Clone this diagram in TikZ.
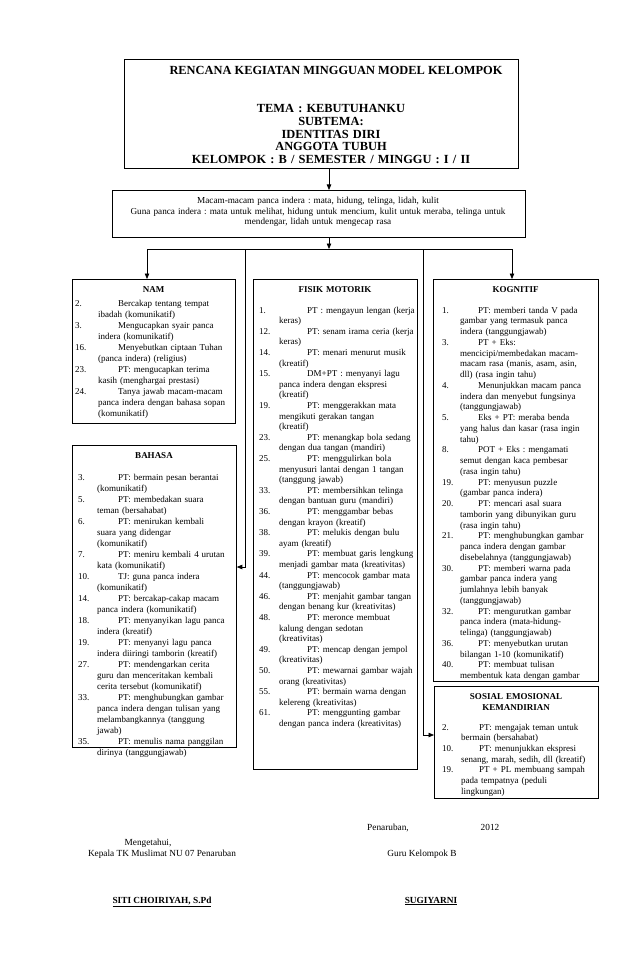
\documentclass[tikz,border=0pt]{standalone}
\usepackage{fontspec}
\setmainfont{Liberation Serif}
\usetikzlibrary{arrows.meta}
\frenchspacing
\newlength{\lebarno}
\newlength{\gantung}
\newcommand{\butir}[2]{\hangindent=\gantung\hangafter=1\noindent\makebox[\lebarno][l]{#1}#2\par}

\begin{document}
\begin{tikzpicture}[x=1pt, y=-1pt,
  kotak/.style={draw, line width=0.8pt, anchor=north west, inner sep=0pt},
  judul/.style={font=\fontsize{9}{11}\selectfont\bfseries, text width=150pt, align=center, anchor=base, inner sep=0pt},
  isi/.style={anchor=base west, inner sep=0pt, text width=220pt, align=left},
  panah/.style={line width=0.7pt, -{Triangle[length=5.5pt, width=4.5pt]}},
  garis/.style={line width=0.7pt},
  ttd/.style={font=\fontsize{9.3}{11}\selectfont, anchor=base, inner sep=0pt}
]
\useasboundingbox (0,0) rectangle (638,976);

% kepala
\node[kotak, minimum width=394pt, minimum height=109pt] (kepala) at (124,59) {};
\node[anchor=base, inner sep=0pt, font=\fontsize{12.4}{14}\selectfont\bfseries] (judulutama) at (336,75) {RENCANA KEGIATAN MINGGUAN MODEL KELOMPOK};
\node[anchor=base, inner sep=0pt, text width=330pt, align=center, font=\fontsize{12.4}{12.6}\selectfont\bfseries] (tema) at (331,113)
  {TEMA : KEBUTUHANKU\\ SUBTEMA:\\ IDENTITAS DIRI\\ ANGGOTA TUBUH\\ KELOMPOK : B / SEMESTER / MINGGU : I / II};

% panca indera
\node[kotak, minimum width=413pt, minimum height=47pt] (panca) at (112,190) {};
\node[anchor=base, inner sep=0pt, text width=430pt, align=center, font=\fontsize{9.2}{10.5}\selectfont] (pancaisi) at (318,204)
  {Macam-macam panca indera : mata, hidung, telinga, lidah, kulit\\
   Guna panca indera : mata untuk melihat, hidung untuk mencium, kulit untuk meraba, telinga untuk\hspace*{36pt}\\
   mendengar, lidah untuk mengecap rasa};

% kotak bidang
\node[kotak, minimum width=163pt, minimum height=144pt] (nam) at (72,279) {};
\node[kotak, minimum width=164pt, minimum height=302pt] (bhs) at (72,445) {};
\node[kotak, minimum width=164pt, minimum height=490pt] (fis) at (253,279) {};
\node[kotak, minimum width=165pt, minimum height=402pt] (kog) at (433,279) {};
\node[kotak, fill=white, minimum width=164pt, minimum height=112pt] (sos) at (434,686) {};

% percabangan
\coordinate (poros) at (329,0);
\coordinate (simpang) at (329,249);
\coordinate (cabA) at (147,249);
\coordinate (cabB) at (245,249);
\coordinate (cabC) at (423,249);
\coordinate (cabD) at (512,249);
\draw[panah] (kepala.south -| poros) -- (panca.north -| poros);
\draw[panah] (panca.south -| poros) -- (simpang);
\draw[garis] (cabA) -- (cabD);
\draw[panah] (cabA) -- (cabA |- nam.north);
\draw[panah] (cabD) -- (cabD |- kog.north);
\draw[panah] (cabB) |- ([yshift=-122pt]bhs.north east);
\draw[panah] (cabC) |- ([yshift=-49pt]sos.north west);

% NAM
\node[judul] (namjudul) at (153.5,292) {NAM};
\node[isi, font=\fontsize{9}{11}\selectfont] (namisi) at (75,306) {\setlength{\lebarno}{43pt}\setlength{\gantung}{23pt}%
\butir{2.}{Bercakap tentang tempat\newline ibadah (komunikatif)}
\butir{3.}{Mengucapkan syair panca\newline indera (komunikatif)}
\butir{16.}{Menyebutkan ciptaan Tuhan\newline (panca indera) (religius)}
\butir{23.}{PT: mengucapkan terima\newline kasih (menghargai prestasi)}
\butir{24.}{Tanya jawab macam-macam\newline panca indera dengan bahasa sopan\newline (komunikatif)}
};

% BAHASA
\node[judul] (bhsjudul) at (154,458) {BAHASA};
\node[isi, font=\fontsize{9}{11}\selectfont] (bhsisi) at (78,480) {\setlength{\lebarno}{40pt}\setlength{\gantung}{19pt}%
\butir{3.}{PT: bermain pesan berantai\newline (komunikatif)}
\butir{5.}{PT: membedakan suara\newline teman (bersahabat)}
\butir{6.}{PT: menirukan kembali\newline suara yang didengar\newline (komunikatif)}
\butir{7.}{PT: meniru kembali 4 urutan\newline kata (komunikatif)}
\butir{10.}{TJ: guna panca indera\newline (komunikatif)}
\butir{14.}{PT: bercakap-cakap macam\newline panca indera (komunikatif)}
\butir{18.}{PT: menyanyikan lagu panca\newline indera (kreatif)}
\butir{19.}{PT: menyanyi lagu panca\newline indera diiringi tamborin (kreatif)}
\butir{27.}{PT: mendengarkan cerita\newline guru dan menceritakan kembali\newline cerita tersebut (komunikatif)}
\butir{33.}{PT: menghubungkan gambar\newline panca indera dengan tulisan yang\newline melambangkannya (tanggung\newline jawab)}
\butir{35.}{PT: menulis nama panggilan\newline dirinya (tanggungjawab)}
};

% FISIK MOTORIK
\node[judul] (fisjudul) at (335,292) {FISIK MOTORIK};
\node[isi, font=\fontsize{9}{10.6}\selectfont] (fisisi) at (259,313) {\setlength{\lebarno}{48pt}\setlength{\gantung}{20pt}%
\butir{1.}{PT : mengayun lengan (kerja\newline keras)}
\butir{12.}{PT: senam irama ceria (kerja\newline keras)}
\butir{14.}{PT: menari menurut musik\newline (kreatif)}
\butir{15.}{DM+PT : menyanyi lagu\newline panca indera dengan ekspresi\newline (kreatif)}
\butir{19.}{PT: menggerakkan mata\newline mengikuti gerakan tangan\newline (kreatif)}
\butir{23.}{PT: menangkap bola sedang\newline dengan dua tangan (mandiri)}
\butir{25.}{PT: menggulirkan bola\newline menyusuri lantai dengan 1 tangan\newline (tanggung jawab)}
\butir{33.}{PT: membersihkan telinga\newline dengan bantuan guru (mandiri)}
\butir{36.}{PT: menggambar bebas\newline dengan krayon (kreatif)}
\butir{38.}{PT: melukis dengan bulu\newline ayam (kreatif)}
\butir{39.}{PT: membuat garis lengkung\newline menjadi gambar mata (kreativitas)}
\butir{44.}{PT: mencocok gambar mata\newline (tanggungjawab)}
\butir{46.}{PT: menjahit gambar tangan\newline dengan benang kur (kreativitas)}
\butir{48.}{PT: meronce membuat\newline kalung dengan sedotan\newline (kreativitas)}
\butir{49.}{PT: mencap dengan jempol\newline (kreativitas)}
\butir{50.}{PT: mewarnai gambar wajah\newline orang (kreativitas)}
\butir{55.}{PT: bermain warna dengan\newline kelereng (kreativitas)}
\butir{61.}{PT: menggunting gambar\newline dengan panca indera (kreativitas)}
};

% KOGNITIF
\node[judul] (kogjudul) at (515.5,292) {KOGNITIF};
\node[isi, font=\fontsize{9}{10.75}\selectfont] (kogisi) at (442,313) {\setlength{\lebarno}{36pt}\setlength{\gantung}{18pt}%
\butir{1.}{PT: memberi tanda V pada\newline gambar yang termasuk panca\newline indera (tanggungjawab)}
\butir{3.}{PT + Eks:\newline mencicipi/membedakan macam-\newline macam rasa (manis, asam, asin,\newline dll) (rasa ingin tahu)}
\butir{4.}{Menunjukkan macam panca\newline indera dan menyebut fungsinya\newline (tanggungjawab)}
\butir{5.}{Eks + PT: meraba benda\newline yang halus dan kasar (rasa ingin\newline tahu)}
\butir{8.}{POT + Eks : mengamati\newline semut dengan kaca pembesar\newline (rasa ingin tahu)}
\butir{19.}{PT: menyusun puzzle\newline (gambar panca indera)}
\butir{20.}{PT: mencari asal suara\newline tamborin yang dibunyikan guru\newline (rasa ingin tahu)}
\butir{21.}{PT: menghubungkan gambar\newline panca indera dengan gambar\newline disebelahnya (tanggungjawab)}
\butir{30.}{PT: memberi warna pada\newline gambar panca indera yang\newline jumlahnya lebih banyak\newline (tanggungjawab)}
\butir{32.}{PT: mengurutkan gambar\newline panca indera (mata-hidung-\newline telinga) (tanggungjawab)}
\butir{36.}{PT: menyebutkan urutan\newline bilangan 1-10 (komunikatif)}
\butir{40.}{PT: membuat tulisan\newline membentuk kata dengan gambar}
};

% SOSIAL EMOSIONAL
\node[judul] (sosjudul) at (516,699) {SOSIAL EMOSIONAL\\ KEMANDIRIAN};
\node[isi, font=\fontsize{9}{10.7}\selectfont] (sosisi) at (442,730) {\setlength{\lebarno}{37pt}\setlength{\gantung}{19pt}%
\butir{2.}{PT: mengajak teman untuk\newline bermain (bersahabat)}
\butir{10.}{PT: menunjukkan ekspresi\newline senang, marah, sedih, dll (kreatif)}
\butir{19.}{PT + PL membuang sampah\newline pada tempatnya (peduli\newline lingkungan)}
};

% tanda tangan
\node[ttd] (tempat) at (388,830) {Penaruban,};
\node[ttd] (tahun) at (490,830) {2012};
\node[ttd] (mengetahui) at (148,845) {Mengetahui,};
\node[ttd] (kepsek) at (162,856) {Kepala TK Muslimat NU 07 Penaruban};
\node[ttd] (guru) at (422,856) {Guru Kelompok B};
\node[ttd, font=\fontsize{9.3}{11}\selectfont\bfseries] (namakepsek) at (162,903) {\underline{SITI CHOIRIYAH, S.Pd}};
\node[ttd, font=\fontsize{9.3}{11}\selectfont\bfseries] (namaguru) at (431,903) {\underline{SUGIYARNI}};
\end{tikzpicture}
\end{document}
